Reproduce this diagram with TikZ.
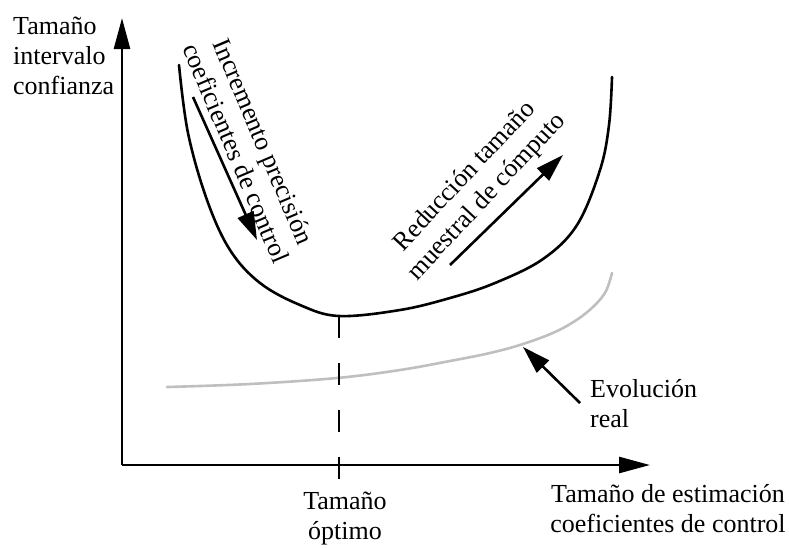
\documentclass[tikz,border=0pt]{standalone}
\usepackage{fontspec}
\setmainfont{Liberation Serif}
\usetikzlibrary{arrows.meta}
\tikzset{
  lbl/.style={inner sep=0pt, font=\fontsize{26}{30}\selectfont},
  axis/.style={line width=2.6pt, -{Triangle[length=31pt,width=16pt]}},
  curve/.style={line width=2.6pt, line cap=round},
  realcurve/.style={line width=2.6pt, color=black!25, line cap=round},
  hint/.style={line width=2.6pt, -{Triangle[length=28pt,width=17pt]}},
  guide/.style={line width=2.6pt, dash pattern=on 22pt off 25pt}
}
\begin{document}
\begin{tikzpicture}[x=1pt,y=-1pt]
\useasboundingbox (0,0) rectangle (789,547);
% axes
\coordinate (O) at (122,465);
\coordinate (ytip) at (122,18);
\coordinate (xtip) at (650,465);
\draw[axis] (O) -- (ytip);
\draw[axis] (O) -- (xtip);
% U curve
\coordinate (umin) at (339,316);
\draw[curve] plot[smooth, tension=0.6] coordinates {(179,65) (188,133) (207,200) (230,250) (260,283) (300,305) (339,316) (400,310) (450,298) (495,283) (543,259) (577,225) (600,170) (609,125) (612,77)};
% real evolution curve
\draw[realcurve] plot[smooth, tension=0.6] coordinates {(167,387) (250,384) (337,378) (400,370) (450,361) (490,353) (523,344) (555,332) (578,319) (595,305) (606,291) (612,273)};
% dashed guide
\coordinate (tick) at (339,480);
\draw[guide] (umin) -- (tick);
% direction arrows
\coordinate (a1s) at (193,97);
\coordinate (a1e) at (257,240);
\draw[hint] (a1s) -- (a1e);
\coordinate (a2s) at (450,265);
\coordinate (a2e) at (563,155);
\draw[hint] (a2s) -- (a2e);
\coordinate (a3s) at (580,403);
\coordinate (a3e) at (523,347);
\draw[hint] (a3s) -- (a3e);
% labels
\node[lbl, anchor=north west, align=left] (ylab) at (13,17) {Tama\~no\\intervalo\\confianza};
\node[lbl, anchor=north, align=center] (opt) at (345,492) {Tama\~no\\\'optimo};
\node[lbl, anchor=north, align=center] (xlab) at (668,484) {Tama\~no de estimaci\'on\\coeficientes de control};
\node[lbl, anchor=north west, align=left] (real) at (590,379) {Evoluci\'on\\real};
\node[lbl, align=center, rotate=-67] (inc) at (250,147) {Incremento precisi\'on\\coeficientes de control};
\node[lbl, align=center, rotate=47] (red) at (476,187) {Reducci\'on tama\~no\\muestral de c\'omputo};
\end{tikzpicture}
\end{document}
